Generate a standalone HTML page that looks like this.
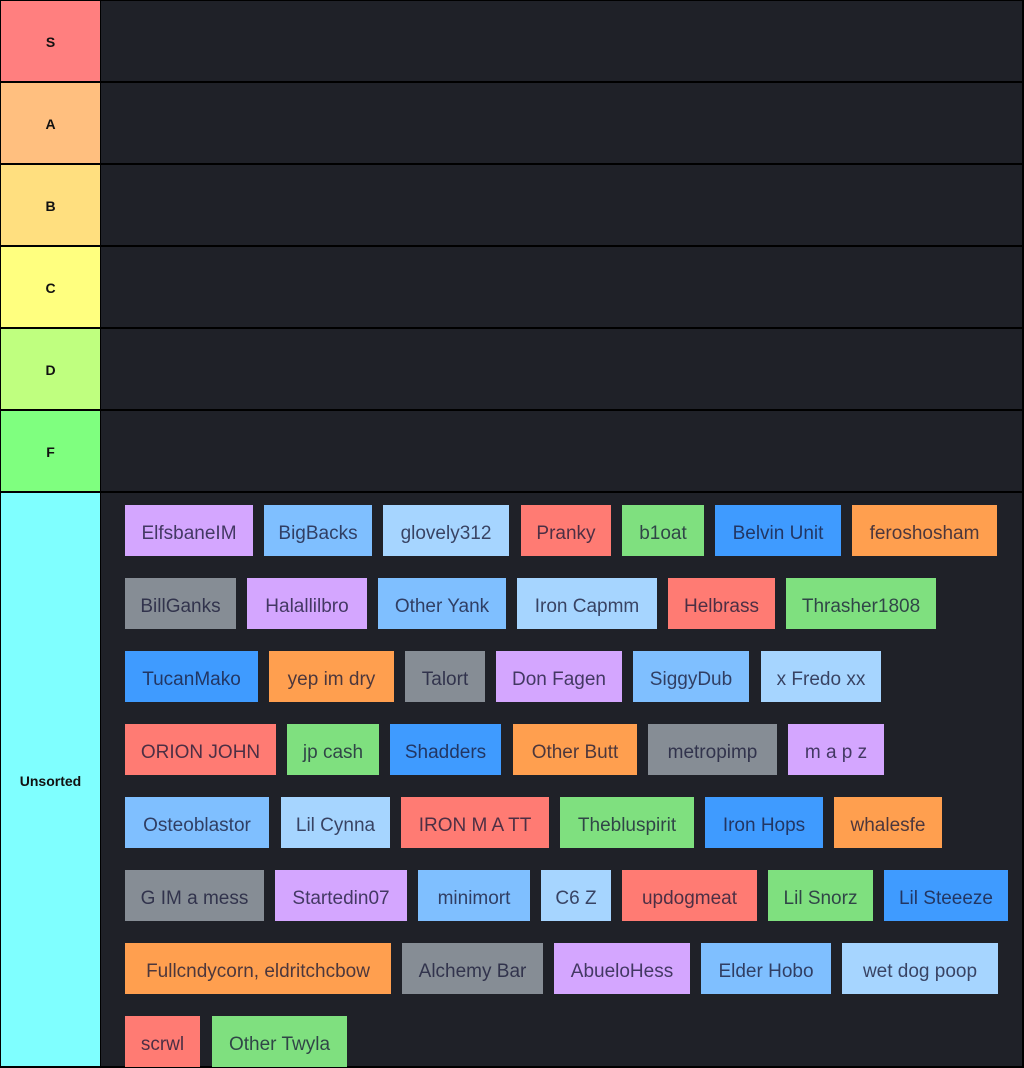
<!DOCTYPE html>
<html><head><meta charset="utf-8"><style>
html,body{margin:0;padding:0;background:#000;}
body{width:1024px;height:1068px;position:relative;overflow:hidden;font-family:"Liberation Sans",sans-serif;}
.lab{position:absolute;left:1px;width:99px;display:flex;align-items:center;justify-content:center;font-weight:bold;font-size:14px;color:#111;padding-top:2px;box-sizing:border-box;}
.row{position:absolute;left:101px;width:921px;background:#1f2128;}
.c{position:absolute;height:51px;line-height:57px;text-align:center;font-size:19px;color:rgba(25,25,55,0.78);white-space:nowrap;overflow:hidden;}
.p{background:#d4a6ff}.lb{background:#7fbfff}.xl{background:#a6d5ff}.r{background:#ff7b73}.g{background:#7fe07f}.b{background:#3f9bff}.o{background:#ff9f4f}.gr{background:#868d95}
</style></head><body>
<div class="lab" style="top:1px;height:80px;background:#ff7f7f">S</div><div class="row" style="top:1px;height:80px"></div>
<div class="lab" style="top:83px;height:80px;background:#ffbf7f">A</div><div class="row" style="top:83px;height:80px"></div>
<div class="lab" style="top:165px;height:80px;background:#ffdf7f">B</div><div class="row" style="top:165px;height:80px"></div>
<div class="lab" style="top:247px;height:80px;background:#ffff7f">C</div><div class="row" style="top:247px;height:80px"></div>
<div class="lab" style="top:329px;height:80px;background:#bfff7f">D</div><div class="row" style="top:329px;height:80px"></div>
<div class="lab" style="top:411px;height:80px;background:#7fff7f">F</div><div class="row" style="top:411px;height:80px"></div>
<div class="lab" style="top:493px;height:573px;background:#7fffff">Unsorted</div><div class="row" style="top:493px;height:573px"></div>

<div class="c p" style="top:505px;left:125px;width:128px">ElfsbaneIM</div>
<div class="c lb" style="top:505px;left:264px;width:108px">BigBacks</div>
<div class="c xl" style="top:505px;left:383px;width:126px">glovely312</div>
<div class="c r" style="top:505px;left:521px;width:90px">Pranky</div>
<div class="c g" style="top:505px;left:622px;width:82px">b1oat</div>
<div class="c b" style="top:505px;left:715px;width:126px">Belvin Unit</div>
<div class="c o" style="top:505px;left:852px;width:145px">feroshosham</div>

<div class="c gr" style="top:578px;left:125px;width:111px">BillGanks</div>
<div class="c p" style="top:578px;left:247px;width:120px">Halallilbro</div>
<div class="c lb" style="top:578px;left:378px;width:128px">Other Yank</div>
<div class="c xl" style="top:578px;left:517px;width:140px">Iron Capmm</div>
<div class="c r" style="top:578px;left:668px;width:107px">Helbrass</div>
<div class="c g" style="top:578px;left:786px;width:150px">Thrasher1808</div>

<div class="c b" style="top:651px;left:125px;width:133px">TucanMako</div>
<div class="c o" style="top:651px;left:269px;width:125px">yep im dry</div>
<div class="c gr" style="top:651px;left:405px;width:80px">Talort</div>
<div class="c p" style="top:651px;left:496px;width:126px">Don Fagen</div>
<div class="c lb" style="top:651px;left:633px;width:116px">SiggyDub</div>
<div class="c xl" style="top:651px;left:761px;width:120px">x Fredo xx</div>

<div class="c r" style="top:724px;left:125px;width:151px">ORION JOHN</div>
<div class="c g" style="top:724px;left:287px;width:92px">jp cash</div>
<div class="c b" style="top:724px;left:390px;width:111px">Shadders</div>
<div class="c o" style="top:724px;left:513px;width:124px">Other Butt</div>
<div class="c gr" style="top:724px;left:648px;width:129px">metropimp</div>
<div class="c p" style="top:724px;left:788px;width:96px">m a p z</div>

<div class="c lb" style="top:797px;left:125px;width:144px">Osteoblastor</div>
<div class="c xl" style="top:797px;left:281px;width:109px">Lil Cynna</div>
<div class="c r" style="top:797px;left:401px;width:148px">IRON M A TT</div>
<div class="c g" style="top:797px;left:560px;width:134px">Thebluspirit</div>
<div class="c b" style="top:797px;left:705px;width:118px">Iron Hops</div>
<div class="c o" style="top:797px;left:834px;width:108px">whalesfe</div>

<div class="c gr" style="top:870px;left:125px;width:139px">G IM a mess</div>
<div class="c p" style="top:870px;left:275px;width:132px">Startedin07</div>
<div class="c lb" style="top:870px;left:418px;width:112px">minimort</div>
<div class="c xl" style="top:870px;left:541px;width:70px">C6 Z</div>
<div class="c r" style="top:870px;left:622px;width:135px">updogmeat</div>
<div class="c g" style="top:870px;left:768px;width:105px">Lil Snorz</div>
<div class="c b" style="top:870px;left:884px;width:124px">Lil Steeeze</div>

<div class="c o" style="top:943px;left:125px;width:266px">Fullcndycorn, eldritchcbow</div>
<div class="c gr" style="top:943px;left:402px;width:141px">Alchemy Bar</div>
<div class="c p" style="top:943px;left:554px;width:136px">AbueloHess</div>
<div class="c lb" style="top:943px;left:701px;width:130px">Elder Hobo</div>
<div class="c xl" style="top:943px;left:842px;width:156px">wet dog poop</div>

<div class="c r" style="top:1016px;left:125px;width:75px">scrwl</div>
<div class="c g" style="top:1016px;left:212px;width:135px">Other Twyla</div>
</body></html>
